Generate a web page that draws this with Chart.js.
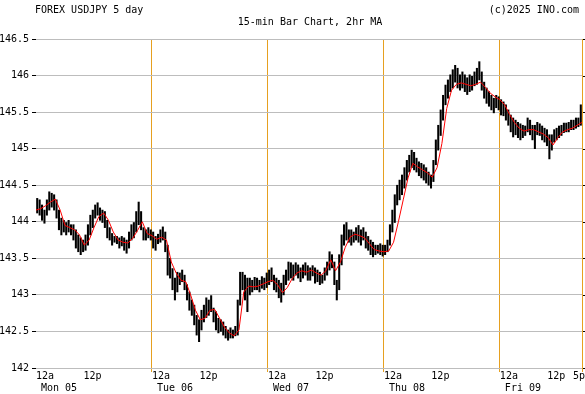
<!DOCTYPE html>
<html>
<head>
<meta charset="utf-8">
<script src="https://cdn.jsdelivr.net/npm/chart.js@4"></script>
<style>
  html, body { margin: 0; padding: 0; background: #fff; }
  canvas { display: block; }
</style>
</head>
<body>
<canvas id="chart" width="585" height="394"></canvas>
<script>
// =====================================================
//  FOREX USDJPY 5 day — 15-min bars + 2hr MA
// =====================================================

// ---- Data (30-min bar lows / highs, Mon 12a -> Fri 5p) ----
const barLow = [
  // Mon 05
  144.12,144.09,144.02,143.98,144.09,144.16,144.20,144.16,144.05,143.89,143.82,143.86,
  143.82,143.86,143.82,143.75,143.64,143.59,143.55,143.59,143.61,143.68,143.82,143.92,
  144.05,144.09,144.02,143.99,143.92,143.78,143.75,143.68,143.72,143.70,143.64,143.67,
  143.61,143.57,143.64,143.75,143.78,143.86,143.96,143.89,143.75,143.75,143.78,143.75,
  // Tue 06
  143.64,143.61,143.70,143.72,143.75,143.59,143.27,143.23,143.07,142.93,143.04,143.14,
  143.18,143.07,142.93,142.79,142.72,142.59,142.45,142.36,142.52,142.63,142.69,142.72,
  142.77,142.63,142.52,142.48,142.50,142.45,142.41,142.38,142.41,142.41,142.44,142.45,
  142.86,143.07,142.93,142.77,143.00,143.04,143.07,143.07,143.04,143.09,143.07,143.10,
  // Wed 07
  143.14,143.18,143.07,143.04,142.96,142.90,143.00,143.14,143.20,143.23,143.20,143.27,
  143.23,143.18,143.23,143.27,143.20,143.20,143.26,143.16,143.18,143.14,143.16,143.20,
  143.27,143.34,143.37,143.14,142.93,143.07,143.41,143.68,143.75,143.72,143.68,143.72,
  143.75,143.72,143.68,143.75,143.64,143.61,143.55,143.52,143.55,143.57,143.55,143.53,
  // Thu 08
  143.55,143.59,143.68,143.86,143.99,144.23,144.30,144.37,144.46,144.57,144.68,144.74,
  144.71,144.68,144.63,144.60,144.57,144.53,144.50,144.46,144.55,144.78,144.98,145.18,
  145.39,145.60,145.69,145.78,145.83,145.91,145.83,145.80,145.83,145.78,145.74,145.78,
  145.80,145.86,145.88,145.94,145.80,145.69,145.62,145.58,145.53,145.49,145.56,145.53,
  // Fri 09
  145.46,145.45,145.39,145.32,145.23,145.16,145.19,145.15,145.12,145.15,145.18,145.23,
  145.19,145.12,145.00,145.19,145.18,145.12,145.09,145.04,144.86,144.98,145.09,145.12,
  145.15,145.18,145.22,145.23,145.23,145.26,145.26,145.28,145.30,145.32
];
const barHigh = [
  // Mon 05
  144.32,144.30,144.23,144.16,144.30,144.41,144.39,144.37,144.30,144.16,144.05,144.02,
  143.99,144.02,143.96,143.96,143.89,143.82,143.78,143.75,143.82,143.96,144.09,144.16,
  144.23,144.26,144.19,144.16,144.14,144.02,143.92,143.84,143.80,143.80,143.78,143.80,
  143.78,143.75,143.86,143.96,143.99,144.14,144.27,144.14,143.92,143.89,143.92,143.89,
  // Tue 06
  143.86,143.80,143.83,143.89,143.93,143.86,143.68,143.50,143.36,143.23,143.31,143.30,
  143.34,143.27,143.14,143.04,142.93,142.86,142.72,142.66,142.79,142.86,142.96,142.93,
  142.99,142.82,142.77,142.68,142.66,142.63,142.57,142.52,142.55,142.52,142.57,142.93,
  143.31,143.31,143.27,143.23,143.23,143.20,143.24,143.23,143.20,143.25,143.23,143.30,
  // Wed 07
  143.34,143.37,143.27,143.23,143.20,143.16,143.27,143.34,143.45,143.44,143.41,143.44,
  143.41,143.37,143.41,143.44,143.40,143.37,143.40,143.37,143.34,143.31,143.27,143.37,
  143.45,143.59,143.55,143.45,143.20,143.55,143.82,143.96,143.99,143.89,143.89,143.86,
  143.92,143.95,143.89,143.92,143.86,143.80,143.75,143.72,143.68,143.68,143.70,143.68,
  // Thu 08
  143.68,143.75,143.96,144.16,144.37,144.50,144.57,144.64,144.74,144.84,144.91,144.98,
  144.95,144.87,144.82,144.80,144.78,144.74,144.68,144.64,144.84,145.12,145.32,145.53,
  145.73,145.87,145.94,146.01,146.08,146.14,146.10,146.01,146.05,146.01,145.97,146.01,
  145.99,146.05,146.10,146.19,146.05,145.91,145.83,145.78,145.73,145.69,145.73,145.71,
  // Fri 09
  145.67,145.64,145.60,145.53,145.46,145.42,145.39,145.36,145.34,145.32,145.31,145.42,
  145.39,145.32,145.32,145.36,145.34,145.31,145.28,145.26,145.19,145.19,145.26,145.28,
  145.31,145.32,145.35,145.35,145.36,145.39,145.39,145.42,145.42,145.60
];

// ---- 2hr moving average, read hourly (t = 0 .. 113) ----
const maValues = [
  144.16,144.18,144.22,144.27,144.31,144.16,143.95,143.92,143.89,143.82,143.68,143.75,
  143.92,144.07,144.12,144.02,143.86,143.75,143.72,143.71,143.77,143.88,144.00,143.84,
  143.81,143.76,143.79,143.75,143.45,143.30,143.20,143.18,143.00,142.79,142.66,142.68,
  142.79,142.80,142.68,142.56,142.48,142.44,142.52,143.04,143.12,143.11,143.12,143.15,
  143.18,143.20,143.14,143.03,143.10,143.22,143.30,143.33,143.31,143.34,143.30,143.27,
  143.33,143.48,143.33,143.45,143.65,143.79,143.83,143.81,143.78,143.70,143.62,143.60,
  143.59,143.60,143.72,144.00,144.30,144.60,144.80,144.75,144.71,144.67,144.61,144.74,
  145.07,145.55,145.80,145.88,145.90,145.88,145.86,145.88,145.91,145.84,145.76,145.71,
  145.67,145.60,145.47,145.36,145.28,145.24,145.26,145.26,145.23,145.20,145.15,145.05,
  145.15,145.23,145.26,145.28,145.32,145.36
];

const yTicks    = [142, 142.5, 143, 143.5, 144, 144.5, 145, 145.5, 146, 146.5];
const dayLabels = ['Mon 05', 'Tue 06', 'Wed 07', 'Thu 08', 'Fri 09'];
const lastLabel = '5p';
const HOURS     = 113;   // Mon 00:00 -> Fri 17:00
const BAR_HOURS = 0.5;

// ---- Styles ----
const FONT_FAMILY = '"DejaVu Sans Mono", "Liberation Mono", monospace';
const FONT    = `10px ${FONT_FAMILY}`;
const GRID    = '#bdbdbd';
const DAYLINE = '#e6a020';

const barData = barLow.map((lo, i) => ({ x: i * BAR_HOURS + BAR_HOURS / 2, y: [lo, barHigh[i]] }));
const maData  = maValues.map((v, i) => ({ x: i, y: v }));

const xTickValues = [];
for (let h = 0; h < HOURS; h += 12) xTickValues.push(h);
xTickValues.push(HOURS);

const isDayLine = tick => tick && tick.value > 0 && (tick.value % 24 === 0 || tick.value === HOURS);

// ---- Header, x labels, right ticks ----
const textPlugin = {
  id: 'inoText',
  afterDraw(chart) {
    const { ctx, scales: { x, y } } = chart;
    ctx.save();
    ctx.font = FONT;
    ctx.fillStyle = '#000';
    ctx.textBaseline = 'middle';

    ctx.textAlign = 'left';
    ctx.fillText('FOREX USDJPY 5 day', 35, 10);
    ctx.textAlign = 'right';
    ctx.fillText('(c)2025 INO.com', 579, 10);
    ctx.textAlign = 'center';
    ctx.fillText('15-min Bar Chart, 2hr MA', 310, 22);

    dayLabels.forEach((d, i) => {
      const px = x.getPixelForValue(i * 24);
      ctx.textAlign = 'left';
      ctx.fillText('12a', px, 376);
      ctx.fillText(d, px + 5, 388);
      if (i * 24 + 12 < HOURS) {
        ctx.textAlign = 'center';
        ctx.fillText('12p', x.getPixelForValue(i * 24 + 12) - 1.5, 376);
      }
    });
    ctx.textAlign = 'right';
    ctx.fillText(lastLabel, 585, 376);

    yTicks.forEach(v => {
      const py = Math.round(y.getPixelForValue(v));
      ctx.fillRect(Math.round(chart.chartArea.right) + 1, py, 3, 1);
    });
    ctx.restore();
  }
};

new Chart(document.getElementById('chart').getContext('2d'), {
  type: 'bar',
  data: {
    datasets: [
      { type: 'line', data: maData, borderColor: '#ff0000', borderWidth: 1, pointRadius: 0, tension: 0, order: 1 },
      { type: 'bar',  data: barData, backgroundColor: '#000', borderWidth: 0, barThickness: 1.4, order: 2 },
    ],
  },
  options: {
    responsive: false,
    devicePixelRatio: 1,
    animation: false,
    layout: { padding: { top: 39, right: 3, bottom: 0, left: 0 } },
    plugins: { legend: { display: false }, tooltip: { enabled: false } },
    scales: {
      x: {
        type: 'linear', min: 0, max: HOURS, offset: false,
        afterBuildTicks: s => { s.ticks = xTickValues.map(v => ({ value: v })); },
        afterFit: s => { s.height = 26; },
        ticks: { display: false },
        grid: {
          offset: false,
          color:     c => isDayLine(c.tick) ? DAYLINE : 'rgba(0,0,0,0)',
          tickColor: c => isDayLine(c.tick) ? DAYLINE : 'rgba(0,0,0,0)',
          tickLength: 4,
        },
        border: { display: false },
      },
      y: {
        min: 142, max: 146.5,
        afterBuildTicks: s => { s.ticks = yTicks.map(v => ({ value: v })); },
        afterFit: s => { s.width = 36; },
        ticks: { font: { family: FONT_FAMILY, size: 10 }, color: '#000', padding: 3, callback: v => String(v) },
        grid: { color: GRID, tickColor: '#000', tickLength: 4 },
        border: { display: false },
      },
    },
  },
  plugins: [textPlugin],
});
</script>
</body>
</html>
